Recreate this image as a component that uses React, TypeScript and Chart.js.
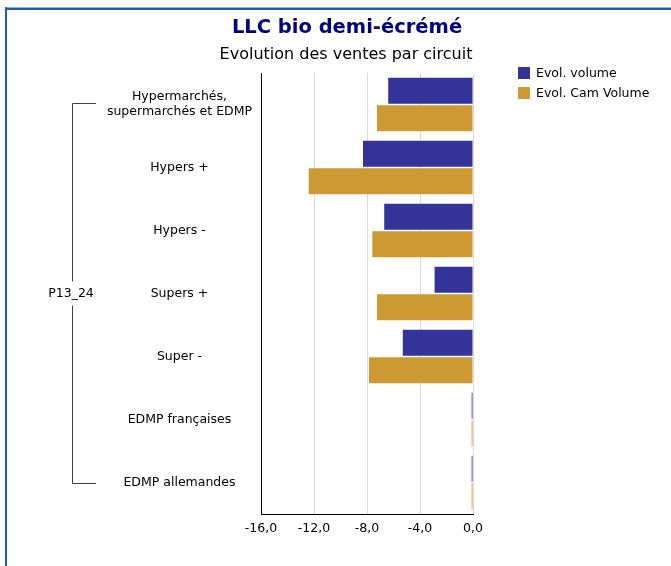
import React, { useEffect, useRef } from 'react';
import { Chart, registerables } from 'chart.js';

Chart.register(...registerables);

const FONT = "'DejaVu Sans', Verdana, sans-serif";

const titleText = 'LLC bio demi-écrémé';
const subtitleText = 'Evolution des ventes par circuit';
const groupLabel = 'P13_24';
const categories: (string | string[])[] = [
  ['Hypermarchés,', 'supermarchés et EDMP'],
  'Hypers +',
  'Hypers -',
  'Supers +',
  'Super -',
  'EDMP françaises',
  'EDMP allemandes',
];
const seriesNames = ['Evol. volume', 'Evol. Cam Volume'];
const evolVolume = [-6.4, -8.3, -6.7, -2.9, -5.3, -0.1, -0.1];
const evolCamVolume = [-7.25, -12.4, -7.6, -7.25, -7.85, -0.1, -0.1];
const seriesColors = ['#333399', '#CC9933'];
const xMin = -16;
const xMax = 0;
const xStep = 4;

const decor = {
  id: 'decor',
  beforeDraw(chart: any) {
    const ctx = chart.ctx;
    ctx.save();
    ctx.fillStyle = '#ffffff';
    ctx.fillRect(0, 0, chart.width, chart.height);
    ctx.fillStyle = '#8fb3df';
    ctx.fillRect(5, 7, chart.width, 1);
    ctx.fillStyle = '#1a5fb4';
    ctx.fillRect(5, 8, chart.width, 2);
    ctx.fillRect(5, 7, 2, chart.height);
    ctx.restore();
  },
  afterDraw(chart: any) {
    const ctx = chart.ctx;
    ctx.save();
    ctx.textAlign = 'center';
    ctx.textBaseline = 'middle';
    ctx.fillStyle = '#000080';
    ctx.font = `bold 19.5px ${FONT}`;
    ctx.fillText(titleText, 347, 28);
    ctx.fillStyle = '#000000';
    ctx.font = `16px ${FONT}`;
    ctx.fillText(subtitleText, 346, 55);

    ctx.font = `12.5px ${FONT}`;
    ctx.textAlign = 'left';
    chart.data.datasets.forEach((ds: any, i: number) => {
      const y = 67 + i * 20;
      ctx.fillStyle = ds.backgroundColor;
      ctx.fillRect(518, y, 12, 12);
      ctx.fillStyle = '#000000';
      ctx.fillText(ds.label, 536, y + 6.5);
    });

    const ys = chart.scales.y;
    const top = Math.round(ys.getPixelForValue(0)) - 1.5;
    const bot = Math.round(ys.getPixelForValue(categories.length - 1)) + 0.5;
    const mid = (top + bot) / 2;
    const bx = 72.5;
    ctx.strokeStyle = '#404040';
    ctx.lineWidth = 1;
    ctx.beginPath();
    ctx.moveTo(96, top);
    ctx.lineTo(bx, top);
    ctx.lineTo(bx, mid - 12);
    ctx.moveTo(bx, mid + 12);
    ctx.lineTo(bx, bot);
    ctx.lineTo(96, bot);
    ctx.stroke();
    ctx.fillStyle = '#000000';
    ctx.textAlign = 'center';
    ctx.fillText(groupLabel, 71, mid);
    ctx.restore();
  },
};

export default function App() {
  const ref = useRef<HTMLCanvasElement | null>(null);
  useEffect(() => {
    if (!ref.current) return;
    const padLeft = 20;
    const chart = new Chart(ref.current, {
      type: 'bar',
      data: {
        labels: categories,
        datasets: [
          {
            label: seriesNames[0],
            data: evolVolume,
            backgroundColor: seriesColors[0],
            borderWidth: 0,
            categoryPercentage: 0.87,
            barPercentage: 0.95,
          },
          {
            label: seriesNames[1],
            data: evolCamVolume,
            backgroundColor: seriesColors[1],
            borderWidth: 0,
            categoryPercentage: 0.87,
            barPercentage: 0.95,
          },
        ],
      },
      options: {
        indexAxis: 'y',
        animation: false,
        responsive: false,
        maintainAspectRatio: false,
        layout: { padding: { left: padLeft, right: 198, top: 73, bottom: 22 } },
        plugins: {
          legend: { display: false },
          title: { display: false },
          tooltip: { enabled: false },
        },
        scales: {
          x: {
            min: xMin,
            max: xMax,
            ticks: {
              stepSize: xStep,
              color: '#000',
              font: { family: FONT, size: 12.5 },
              padding: 7,
              callback: (v: any) => Number(v).toFixed(1).replace('.', ','),
            },
            grid: { color: '#d9d9d9', drawTicks: false },
            border: { color: '#000', width: 1 },
            afterFit: (s: any) => {
              s.height = 30;
            },
          },
          y: {
            ticks: {
              crossAlign: 'center',
              color: '#000',
              font: { family: FONT, size: 12.5 },
              padding: 1,
              autoSkip: false,
            },
            grid: { display: false },
            border: { display: true, color: '#000', width: 1 },
            afterFit: (s: any) => {
              s.width = 261 - padLeft;
            },
          },
        },
      },
      plugins: [decor],
    } as any);
    return () => chart.destroy();
  }, []);
  return (
    <canvas
      ref={ref}
      width={671}
      height={566}
      style={{ position: 'fixed', left: 0, top: 0, width: 671, height: 566 }}
    />
  );
}
